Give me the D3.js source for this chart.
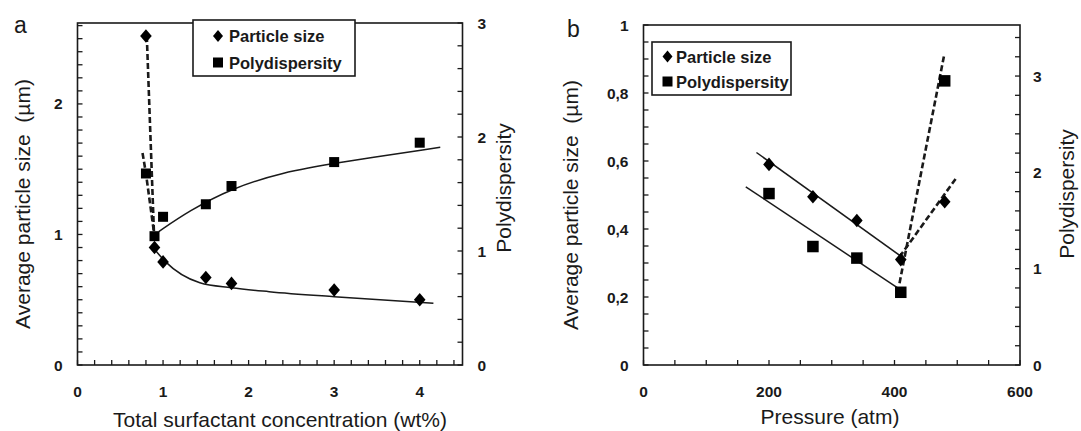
<!DOCTYPE html>
<html>
<head>
<meta charset="utf-8">
<script src="https://cdn.jsdelivr.net/npm/d3@7"></script>
<style>
  body { margin: 0; background: #fff; }
  text { font-family: "Liberation Sans", Arial, sans-serif; fill: #1a1a1a; }
</style>
</head>
<body>
<script>
// ---- panel a : surfactant concentration ----
var concA = [0.8, 0.9, 1.0, 1.5, 1.8, 3.0, 4.0];
var sizeA = [2.52, 0.9, 0.79, 0.67, 0.625, 0.575, 0.5];
var polyA = [1.68, 1.13, 1.30, 1.41, 1.57, 1.78, 1.95];
// trend curves
var fitSizeA = [[0.89, 0.894], [1.03, 0.79], [1.43, 0.63], [1.8, 0.592], [2.24, 0.562], [3.0, 0.523], [4.16, 0.473]];
var fitPolyA = [[0.95, 1.17], [1.3, 1.35], [1.8, 1.55], [2.4, 1.69], [3.0, 1.77], [4.24, 1.91]];
var dashSizeA = [[0.81, 2.52], [0.9, 0.9]];
var dashPolyA = [[0.76, 1.86], [0.8, 1.68], [0.9, 1.13]];
var xTicksA = [0, 1, 2, 3, 4];
var yTicksA = [0, 1, 2];
var y2TicksA = [0, 1, 2, 3];

// ---- panel b : pressure ----
var pressB = [200, 270, 340, 410, 480];
var sizeB = [0.59, 0.495, 0.425, 0.31, 0.48];
var polyB = [1.78, 1.23, 1.11, 0.755, 2.95];
var fitSizeB = [[180, 0.625], [410, 0.32]];
var fitPolyB = [[163, 1.85], [405, 0.8]];
var dashSizeB = [[408, 0.318], [500, 0.554]];
var dashPolyB = [[408, 0.85], [479.5, 3.23]];
var xTicksB = [0, 200, 400, 600];
var yTicksB = [0, 0.2, 0.4, 0.6, 0.8, 1];
var y2TicksB = [0, 1, 2, 3];

var svg = d3.select('body').append('svg')
  .attr('width', 1081).attr('height', 431);

var ink = '#1a1a1a';

function diamondPath(w, h) {
  return 'M0,' + (-h) + 'L' + w + ',0L0,' + h + 'L' + (-w) + ',0Z';
}

function drawPanel(p) {
  var x = d3.scaleLinear().domain(p.xDom).range([p.left, p.right]);
  var y = d3.scaleLinear().domain(p.yDom).range([p.bottom, p.top]);
  var y2 = d3.scaleLinear().domain(p.y2Dom).range([p.bottom, p.top]);
  var g = svg.append('g');
  var tl = 5;

  // minor/major ticks, all inward
  g.selectAll('line.tx').data(p.xMinor).enter().append('line')
    .attr('x1', function(d) { return x(d); }).attr('x2', function(d) { return x(d); })
    .attr('y1', p.bottom).attr('y2', p.bottom - tl)
    .attr('stroke', ink).attr('stroke-width', 1.3);
  g.selectAll('line.ty').data(p.yMinor).enter().append('line')
    .attr('y1', function(d) { return y(d); }).attr('y2', function(d) { return y(d); })
    .attr('x1', p.left).attr('x2', p.left + tl)
    .attr('stroke', ink).attr('stroke-width', 1.3);
  g.selectAll('line.ty2').data(p.y2Minor).enter().append('line')
    .attr('y1', function(d) { return y2(d); }).attr('y2', function(d) { return y2(d); })
    .attr('x1', p.right).attr('x2', p.right - tl)
    .attr('stroke', ink).attr('stroke-width', 1.3);

  g.append('rect')
    .attr('x', p.left).attr('y', p.top)
    .attr('width', p.right - p.left).attr('height', p.bottom - p.top)
    .attr('fill', 'none').attr('stroke', ink).attr('stroke-width', 1.6);

  // tick labels
  g.selectAll('text.xl').data(p.xTicks).enter().append('text')
    .attr('x', function(d) { return x(d); }).attr('y', p.bottom + 32)
    .attr('text-anchor', 'middle').attr('font-size', 15.5).attr('font-weight', 'bold')
    .text(function(d) { return d; });
  g.selectAll('text.yl').data(p.yTicks).enter().append('text')
    .attr('x', p.left - 15).attr('y', function(d) { return y(d) + 5.5; })
    .attr('text-anchor', 'end').attr('font-size', 15.5).attr('font-weight', 'bold')
    .text(p.yFmt);
  g.selectAll('text.y2l').data(p.y2Ticks).enter().append('text')
    .attr('x', p.right + p.y2Gap).attr('y', function(d) { return y2(d) + 5.5; })
    .attr('text-anchor', 'start').attr('font-size', 15.5).attr('font-weight', 'bold')
    .text(function(d) { return d; });

  // axis titles
  g.append('text').attr('x', p.xTitle[0]).attr('y', p.xTitle[1])
    .attr('text-anchor', 'middle').attr('font-size', 21).text(p.xLabel);
  g.append('text')
    .attr('transform', 'translate(' + p.yTitle[0] + ',' + p.yTitle[1] + ') rotate(-90)')
    .attr('text-anchor', 'middle').attr('font-size', 21)
    .style('white-space', 'pre').text('Average particle size  (\u00b5m)');
  g.append('text')
    .attr('transform', 'translate(' + p.y2Title[0] + ',' + p.y2Title[1] + ') rotate(-90)')
    .attr('text-anchor', 'middle').attr('font-size', 21).text('Polydispersity');
  g.append('text').attr('x', p.tag[0]).attr('y', p.tag[1])
    .attr('font-size', 23).text(p.tagText);

  // lines
  var lineL = d3.line().x(function(d) { return x(d[0]); }).y(function(d) { return y(d[1]); });
  var lineR = d3.line().x(function(d) { return x(d[0]); }).y(function(d) { return y2(d[1]); });
  g.append('path').attr('d', lineL.curve(d3.curveMonotoneX)(p.fitSize))
    .attr('fill', 'none').attr('stroke', ink).attr('stroke-width', 1.5);
  g.append('path').attr('d', lineR.curve(d3.curveBasis)(p.fitPoly))
    .attr('fill', 'none').attr('stroke', ink).attr('stroke-width', 1.5);
  g.append('path').attr('d', lineL.curve(d3.curveLinear)(p.dashSize))
    .attr('fill', 'none').attr('stroke', ink).attr('stroke-width', 2.6)
    .attr('stroke-dasharray', '6,3');
  g.append('path').attr('d', lineR.curve(d3.curveLinear)(p.dashPoly))
    .attr('fill', 'none').attr('stroke', ink).attr('stroke-width', 2.6)
    .attr('stroke-dasharray', '6,3');

  // markers
  g.selectAll('path.dia').data(p.xs).enter().append('path')
    .attr('transform', function(d, i) { return 'translate(' + x(d) + ',' + y(p.size[i]) + ')'; })
    .attr('d', diamondPath(5.8, 6.8)).attr('fill', '#000');
  g.selectAll('rect.sq').data(p.xs).enter().append('rect')
    .attr('x', function(d) { return x(d) - p.sq / 2; })
    .attr('y', function(d, i) { return y2(p.poly[i]) - p.sq / 2; })
    .attr('width', p.sq).attr('height', p.sq).attr('fill', '#000');

  // legend
  var L = p.legend;
  g.append('rect').attr('x', L.x).attr('y', L.y).attr('width', L.w).attr('height', L.h)
    .attr('fill', '#fff').attr('stroke', ink).attr('stroke-width', 1.6);
  g.append('path').attr('transform', 'translate(' + L.mx + ',' + L.r1 + ')')
    .attr('d', diamondPath(5, 6)).attr('fill', '#000');
  g.append('rect').attr('x', L.mx - 5).attr('y', L.r2 - 5).attr('width', 10).attr('height', 10)
    .attr('fill', '#000');
  g.append('text').attr('x', L.tx).attr('y', L.r1 + 6).attr('font-size', 16.5)
    .attr('font-weight', 'bold').text('Particle size');
  g.append('text').attr('x', L.tx).attr('y', L.r2 + 6).attr('font-size', 16.5)
    .attr('font-weight', 'bold').text('Polydispersity');
}

drawPanel({
  left: 77.5, right: 462.5, top: 23, bottom: 365,
  xDom: [0, 4.5], yDom: [0, 2.62], y2Dom: [0, 3],
  xMinor: d3.range(0, 4.51, 0.2), yMinor: d3.range(0, 2.61, 0.1), y2Minor: d3.range(0, 3.01, 0.2),
  xTicks: xTicksA, yTicks: yTicksA, y2Ticks: y2TicksA,
  yFmt: function(d) { return d; }, y2Gap: 15,
  xLabel: 'Total surfactant concentration (wt%)', xTitle: [280, 426.5],
  yTitle: [30, 204], y2Title: [511, 188], tag: [14, 33], tagText: 'a',
  xs: concA, size: sizeA, poly: polyA, sq: 10,
  fitSize: fitSizeA, fitPoly: fitPolyA, dashSize: dashSizeA, dashPoly: dashPolyA,
  legend: { x: 193, y: 20, w: 162, h: 56, mx: 218, tx: 229, r1: 36, r2: 62.5 }
});

drawPanel({
  left: 643.5, right: 1020, top: 25, bottom: 365,
  xDom: [0, 600], yDom: [0, 1], y2Dom: [0, 3.53],
  xMinor: d3.range(0, 601, 50), yMinor: d3.range(0, 1.001, 0.05), y2Minor: d3.range(0, 3.41, 0.2),
  xTicks: xTicksB, yTicks: yTicksB, y2Ticks: y2TicksB,
  yFmt: function(d) { return String(d).replace('.', ','); }, y2Gap: 13,
  xLabel: 'Pressure (atm)', xTitle: [830, 424],
  yTitle: [578, 205], y2Title: [1074, 194], tag: [567, 37], tagText: 'b',
  xs: pressB, size: sizeB, poly: polyB, sq: 11.5,
  fitSize: fitSizeB, fitPoly: fitPolyB, dashSize: dashSizeB, dashPoly: dashPolyB,
  legend: { x: 652, y: 42, w: 139, h: 53, mx: 667.5, tx: 676, r1: 56.5, r2: 81.5 }
});
</script>
</body>
</html>
